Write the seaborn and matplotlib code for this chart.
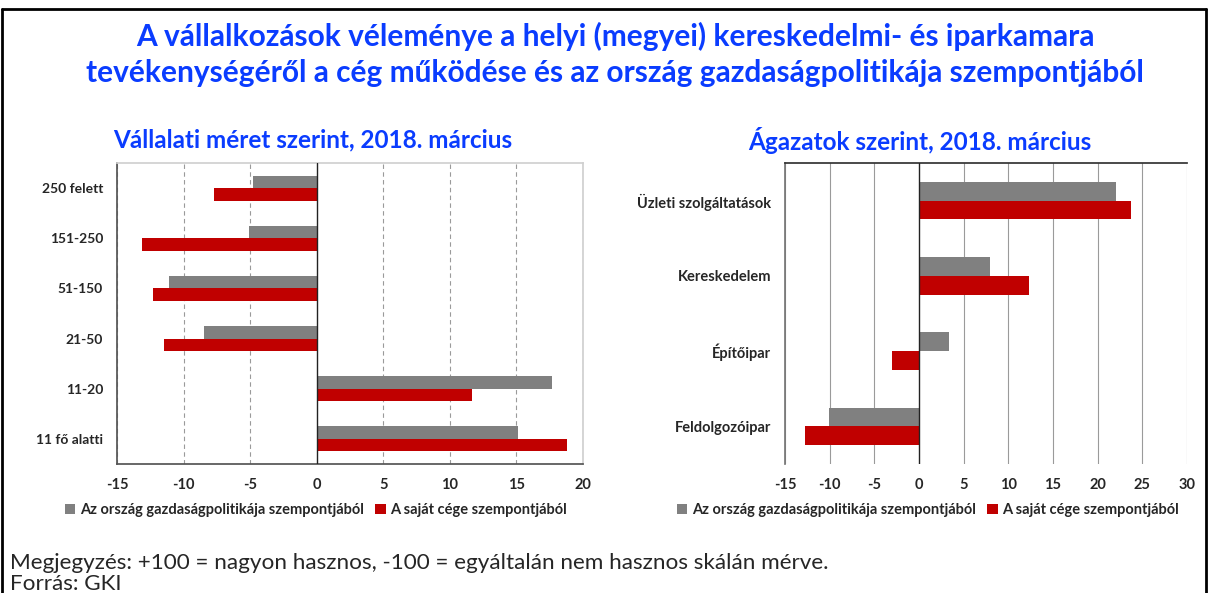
import matplotlib
matplotlib.use('Agg')
import matplotlib.pyplot as plt
from matplotlib.lines import Line2D
from matplotlib.patches import Patch
import pandas as pd
import seaborn as sns

# data
size_labels = ['250 felett', '151-250', '51-150', '21-50', '11-20', '11 fő alatti']
size_country = [-4.8, -5.1, -11.1, -8.5, 17.7, 15.1]
size_own = [-7.7, -13.1, -12.3, -11.5, 11.7, 18.8]

sector_labels = ['Üzleti szolgáltatások', 'Kereskedelem', 'Építőipar', 'Feldolgozóipar']
sector_country = [22.0, 8.0, 3.4, -10.1]
sector_own = [23.7, 12.3, -3.0, -12.8]

series_names = ['Az ország gazdaságpolitikája szempontjából', 'A saját cége szempontjából']
series_colors = ['#808080', '#C00000']

main_title = ('A vállalkozások véleménye a helyi (megyei) kereskedelmi- és iparkamara\n'
              'tevékenységéről a cég működése és az ország gazdaságpolitikája szempontjából')
left_title = 'Vállalati méret szerint, 2018. március'
right_title = 'Ágazatok szerint, 2018. március'
note_text = 'Megjegyzés: +100 = nagyon hasznos, -100 = egyáltalán nem hasznos skálán mérve.'
source_text = 'Forrás: GKI'

BLUE = '#0A3CFF'
W, H = 1209, 593

sns.set_theme(style='white')
plt.rcParams['font.family'] = ['Lato', 'DejaVu Sans']


def long_df(labels, country, own):
    rows = []
    for lab, c, o in zip(labels, country, own):
        rows.append({'cat': lab, 'val': c, 'series': series_names[0]})
        rows.append({'cat': lab, 'val': o, 'series': series_names[1]})
    return pd.DataFrame(rows)


def draw_panel(ax, df, labels, xlim, ticks, grid_style, ylab_size):
    sns.barplot(data=df, y='cat', x='val', hue='series', order=labels,
                hue_order=series_names, palette=series_colors, orient='h',
                width=0.5, saturation=1, ax=ax, legend=False)
    ax.set_xlim(*xlim)
    ax.set_ylim(len(labels) - 0.5, -0.5)
    ax.set_xticks(ticks)
    ax.set_xticklabels([str(t) for t in ticks], fontsize=10.5, fontweight='bold')
    ax.set_yticks(range(len(labels)))
    ax.set_yticklabels(labels, fontsize=ylab_size, fontweight='bold')
    ax.set_xlabel('')
    ax.set_ylabel('')
    ax.tick_params(axis='x', length=0, pad=10)
    ax.tick_params(axis='y', length=0, pad=10)
    for t in ticks:
        if t == 0:
            continue
        ax.axvline(t, color='#9a9a9a', lw=0.8, ls=grid_style, zorder=0)
    ax.axvline(0, color='#222222', lw=1.0, zorder=3)
    for b in ax.patches:
        b.set_edgecolor('none')


fig = plt.figure(figsize=(W / 100, H / 100), dpi=100)

ax1 = fig.add_axes([117 / W, 1 - 464 / H, 466 / W, 301 / H])
draw_panel(ax1, long_df(size_labels, size_country, size_own), size_labels,
           (-15, 20), [-15, -10, -5, 0, 5, 10, 15, 20], (0, (4, 3)), 10)
for side in ['left', 'bottom']:
    ax1.spines[side].set_color('#555555')
for side in ['top', 'right']:
    ax1.spines[side].set_color('#d0d0d0')

ax2 = fig.add_axes([785 / W, 1 - 464 / H, 402 / W, 301 / H])
draw_panel(ax2, long_df(sector_labels, sector_country, sector_own), sector_labels,
           (-15, 30), [-15, -10, -5, 0, 5, 10, 15, 20, 25, 30], '-', 10.5)
ax2.spines['bottom'].set_visible(False)
ax2.spines['right'].set_visible(False)
ax2.spines['top'].set_color('#333333')
ax2.spines['left'].set_color('#777777')

# panel titles
fig.text(313 / W, 1 - 140 / H, left_title, ha='center', va='center', color=BLUE,
         fontsize=17.5, fontweight='bold')
fig.text(920 / W, 1 - 140 / H, right_title, ha='center', va='center', color=BLUE,
         fontsize=17.5, fontweight='bold')

handles = [Patch(facecolor=c, edgecolor='none') for c in series_colors]
for cx in [316 / W, 928 / W]:
    fig.legend(handles, series_names, loc='center', bbox_to_anchor=(cx, 1 - 510 / H),
               ncol=2, frameon=False, handlelength=0.7, handleheight=0.7,
               handletextpad=0.3, columnspacing=0.8, prop={'weight': 'bold', 'size': 10.5})

fig.text(615 / W, 1 - 54 / H, main_title, ha='center', va='center', color=BLUE,
         fontsize=21.5, fontweight='bold', linespacing=1.35)
fig.text(10 / W, 1 - 563 / H, note_text, ha='left', va='center', fontsize=16.2)
fig.text(10 / W, 1 - 584 / H, source_text, ha='left', va='center', fontsize=16.2)

# outer frame
fig.add_artist(Line2D([2 / W, 2 / W], [0, 1 - 9 / H], transform=fig.transFigure,
                      color='black', lw=2))
fig.add_artist(Line2D([1206 / W, 1206 / W], [0, 1 - 9 / H], transform=fig.transFigure,
                      color='black', lw=2))
fig.add_artist(Line2D([2 / W, 1206 / W], [1 - 9 / H, 1 - 9 / H], transform=fig.transFigure,
                      color='black', lw=2))

fig.savefig('out.png', dpi=100, facecolor='white')
